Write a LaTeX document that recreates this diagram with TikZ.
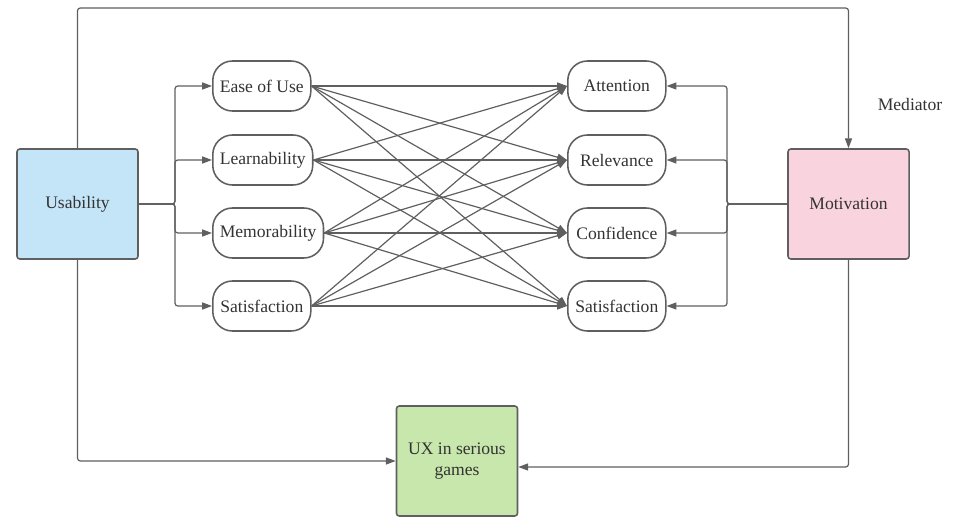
\documentclass[tikz,border=0pt]{standalone}
\usepackage{fontspec}
\setmainfont{Liberation Serif}
\usetikzlibrary{arrows.meta,positioning}
\definecolor{lg}{HTML}{5F5F5F}
\definecolor{tc}{HTML}{333333}
\definecolor{ublue}{HTML}{C4E5F7}
\definecolor{mpink}{HTML}{F9D4DF}
\definecolor{xgreen}{HTML}{C8E7AC}

\begin{document}
\begin{tikzpicture}[x=0.025cm, y=-0.025cm, font=\rmfamily\fontsize{12.5}{15}\selectfont,
  b/.style={draw=lg, line width=1.1pt, rounded corners=2pt, minimum width=3.025cm, minimum height=2.75cm, text=tc},
  f/.style={draw=lg, line width=1.1pt, rounded corners=14pt, minimum width=2.45cm, minimum height=1.25cm, inner xsep=5pt, anchor=west, text=tc},
  c/.style={draw=lg, line width=0.85pt, rounded corners=2pt},
  >={Triangle[length=7pt,width=5pt]}]
\useasboundingbox (0,0) rectangle (955,517);
\node[b, fill=ublue] (u) at (77.5,204) {Usability};
\node[b, fill=mpink] (m) at (848.5,204) {Motivation};
\node[b, fill=xgreen, align=center] (ux) at (457,461) {UX in serious\\games};
\node[text=tc] (med) at (910,104) {Mediator};
\foreach \n/\y/\t in {1/86/Ease of Use, 2/160/Learnability, 3/233/Memorability, 4/306/Satisfaction}
  \node[f] (l\n) at (212,\y) {\t};
\foreach \n/\y/\t in {1/86/Attention, 2/160/Relevance, 3/233/Confidence, 4/306/Satisfaction}
  \node[f] (r\n) at (567,\y) {\t};
\coordinate (uj) at (175,204);
\coordinate (mj) at (727,204);
\coordinate (top) at (77.5,8);
\foreach \n in {1,...,4} {
  \draw[c,->] (u.east) -- (uj) |- (l\n.west);
  \draw[c,->] (m.west) -- (mj) |- (r\n.east);
  \foreach \k in {1,...,4} \draw[c,->] (l\n.east) -- (r\k.west);
}
\draw[c,->] (u.north) -- (top) -| (m.north);
\draw[c,->] (u.south) |- (ux.west);
\draw[c,->] (m.south) |- ([yshift=-0.15cm]ux.east);
\end{tikzpicture}
\end{document}
